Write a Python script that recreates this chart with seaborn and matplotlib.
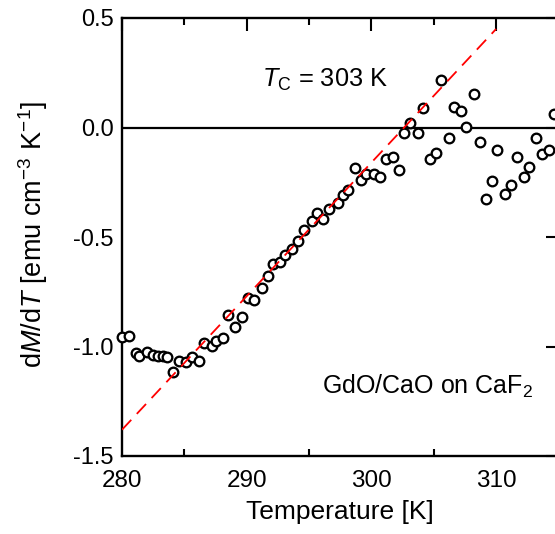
import numpy as np
import pandas as pd
import matplotlib
matplotlib.use("Agg")
import matplotlib.pyplot as plt
from matplotlib.ticker import MultipleLocator
import seaborn as sns

temperature = [280.0, 280.6, 281.1, 281.4, 282.0, 282.5, 282.9, 283.3, 283.6, 284.1,
               284.6, 285.1, 285.6, 286.2, 286.6, 287.2, 287.5, 288.1, 288.5, 289.1,
               289.6, 290.1, 290.6, 291.2, 291.7, 292.1, 292.7, 293.1, 293.6, 294.1,
               294.6, 295.2, 295.6, 296.1, 296.6, 297.3, 297.7, 298.1, 298.7, 299.2,
               299.6, 300.2, 300.7, 301.2, 301.7, 302.2, 302.6, 303.1, 303.7, 304.1,
               304.7, 305.2, 305.6, 306.2, 306.6, 307.2, 307.6, 308.2, 308.7, 309.2,
               309.7, 310.1, 310.7, 311.2, 311.7, 312.2, 312.6, 313.2, 313.7, 314.2,
               314.6]
dMdT = [-0.957, -0.952, -1.028, -1.043, -1.027, -1.040, -1.043, -1.042, -1.049, -1.118,
        -1.065, -1.069, -1.046, -1.065, -0.983, -0.998, -0.975, -0.963, -0.856, -0.912,
        -0.864, -0.780, -0.788, -0.731, -0.678, -0.622, -0.613, -0.580, -0.554, -0.520,
        -0.470, -0.425, -0.392, -0.418, -0.374, -0.346, -0.308, -0.285, -0.183, -0.240,
        -0.212, -0.212, -0.225, -0.144, -0.133, -0.194, -0.025, 0.020, -0.025, 0.090,
        -0.145, -0.115, 0.215, -0.046, 0.092, 0.076, 0.004, 0.152, -0.064, -0.325,
        -0.246, -0.102, -0.305, -0.263, -0.133, -0.227, -0.182, -0.047, -0.120, -0.102,
        0.060]

fit_T = [280.0, 310.0]
fit_val = [-1.38, 0.45]

x_ticks = [280, 290, 300, 310]
y_ticks = [-1.5, -1.0, -0.5, 0.0, 0.5]

sns.set_style("white")
plt.rcParams['font.family'] = ['Liberation Sans', 'DejaVu Sans']
plt.rcParams['mathtext.fontset'] = 'custom'
plt.rcParams['mathtext.rm'] = 'Liberation Sans'
plt.rcParams['mathtext.it'] = 'Liberation Sans:italic'
plt.rcParams['mathtext.bf'] = 'Liberation Sans:bold'
for k in ['text.color', 'axes.labelcolor', 'xtick.color', 'ytick.color', 'axes.edgecolor']:
    plt.rcParams[k] = 'black'

fig = plt.figure(figsize=(5.55, 5.34), dpi=100)
ax = fig.add_axes([122/555, 78/534, 436.5/555, 438/534])

df = pd.DataFrame({"T": temperature, "v": dMdT})
fit = pd.DataFrame({"T": fit_T, "v": fit_val})

ax.axhline(0, color='black', lw=1.6, zorder=1)
sns.scatterplot(data=df, x="T", y="v", ax=ax, marker='o', s=48,
                facecolor='white', edgecolor='black', linewidth=1.65, zorder=4,
                clip_on=False)
sns.lineplot(data=fit, x="T", y="v", ax=ax, color='red', lw=1.3,
             dashes=False, zorder=5)
ax.lines[-1].set_dashes((7.5, 4.5))

ax.set_xlim(280, 315)
ax.set_ylim(-1.5, 0.5)
ax.set_xticks(x_ticks)
ax.set_yticks(y_ticks)
ax.xaxis.set_minor_locator(MultipleLocator(5))
ax.set_xticklabels([str(t) for t in x_ticks])
ax.set_yticklabels([f"{t:.1f}" for t in y_ticks])

ax.tick_params(axis='both', which='major', direction='in', length=9.5, width=1.5,
               top=True, right=True, color='black')
ax.tick_params(axis='x', which='minor', direction='in', length=5, width=1.5,
               top=True, bottom=True)
ax.tick_params(axis='x', which='major', labelsize=17.5, pad=10)
ax.tick_params(axis='y', which='major', labelsize=17, pad=6)
for s in ax.spines.values():
    s.set_linewidth(1.7)
    s.set_color('black')
    s.set_zorder(3)

ax.set_xlabel("Temperature [K]", fontsize=19)
ax.xaxis.set_label_coords(0.50, -0.10)
ax.set_ylabel(r"d$M$/d$T$ [emu cm$^{-3}$ K$^{-1}$]", fontsize=19.5)
ax.yaxis.set_label_coords(-0.165, 0.505)

ax.text(0.465, 0.858, r"$T_\mathrm{C}$ = 303 K", transform=ax.transAxes,
        fontsize=18.3, ha='center', va='center')
ax.text(0.942, 0.16, r"GdO/CaO on CaF$_2$", transform=ax.transAxes,
        fontsize=18, ha='right', va='center')

fig.savefig("out.png", dpi=100)
